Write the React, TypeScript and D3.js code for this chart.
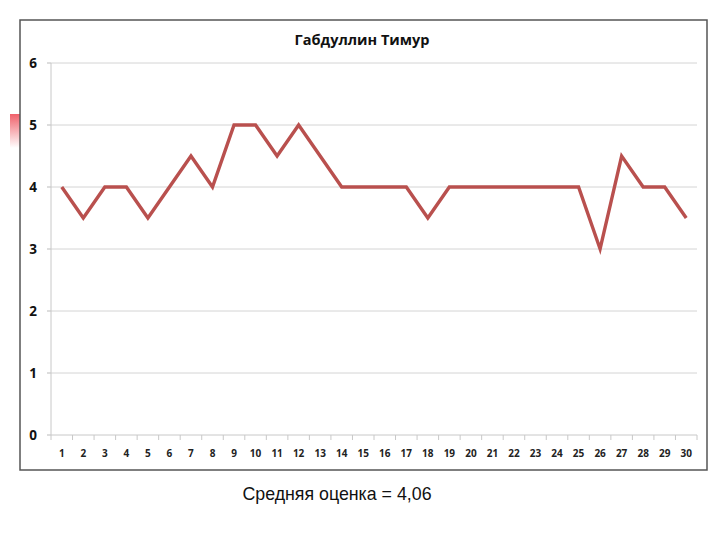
import React from 'react';
import * as d3 from 'd3';

const title = 'Габдуллин Тимур';
const lessons = d3.range(1, 31).map(String);
const grades = [4, 3.5, 4, 4, 3.5, 4, 4.5, 4, 5, 5, 4.5, 5, 4.5, 4, 4, 4, 4, 3.5, 4, 4, 4, 4, 4, 4, 4, 3, 4.5, 4, 4, 3.5];
const yTicks = [0, 1, 2, 3, 4, 5, 6];
const footer = 'Средняя оценка = 4,06';

const W = 720;
const H = 540;
const plot = { left: 51, right: 697, top: 63, bottom: 435 };
const font = '"Open Sans", "Noto Sans", sans-serif';

export default function App() {
  const x = d3.scaleBand<string>().domain(lessons).range([plot.left, plot.right]).padding(0);
  const y = d3.scaleLinear().domain([0, 6]).range([plot.bottom, plot.top]);

  const line = d3
    .line<number>()
    .x((_, i) => (x(lessons[i]) as number) + x.bandwidth() / 2)
    .y(d => y(d));

  const boundaries = lessons.map(l => x(l) as number).concat(plot.right);

  return (
    <svg width={W} height={H} style={{ position: 'absolute', left: 0, top: 0 }}>
      <defs>
        <linearGradient id="redfade" x1="0" y1="0" x2="0" y2="1">
          <stop offset="0%" stopColor="#ee4f5a" stopOpacity={0.9} />
          <stop offset="100%" stopColor="#ee4f5a" stopOpacity={0} />
        </linearGradient>
      </defs>
      <rect x={0} y={0} width={W} height={H} fill="#fff" />
      <rect x={10} y={114} width={10} height={34} fill="url(#redfade)" />
      <rect x={20} y={20} width={687} height={450} fill="#fff" stroke="#555" strokeWidth={1.5} />

      <text x={362} y={45} textAnchor="middle" fontFamily={font} fontWeight="bold" fontSize={14.5} fill="#111">
        {title}
      </text>

      {yTicks.map(t => (
        <g key={t}>
          {t > 0 && (
            <line x1={plot.left} x2={plot.right} y1={y(t)} y2={y(t)} stroke="#d4d4d4" strokeWidth={1} />
          )}
          <line x1={plot.left - 4} x2={plot.left} y1={y(t)} y2={y(t)} stroke="#bbb" />
          <text x={33} y={y(t)} dy="0.36em" textAnchor="middle" fontFamily={font} fontWeight="bold" fontSize={13.5} fill="#111">
            {t}
          </text>
        </g>
      ))}

      <line x1={plot.left} x2={plot.left} y1={plot.top} y2={plot.bottom} stroke="#c8c8c8" />
      <line x1={plot.left} x2={plot.right} y1={plot.bottom} y2={plot.bottom} stroke="#c8c8c8" />
      {boundaries.map((b, i) => (
        <line key={i} x1={b} x2={b} y1={plot.bottom} y2={plot.bottom + 5} stroke="#c8c8c8" />
      ))}
      {lessons.map(l => (
        <text
          key={l}
          x={(x(l) as number) + x.bandwidth() / 2}
          y={457}
          textAnchor="middle"
          fontFamily={font}
          fontWeight="bold"
          fontSize={10}
          fill="#222"
        >
          {l}
        </text>
      ))}

      <path d={line(grades) ?? ''} fill="none" stroke="#b9504e" strokeWidth={3.4} strokeLinejoin="miter" />

      <text x={337} y={500} textAnchor="middle" fontFamily='"Liberation Sans", Arial, sans-serif' fontSize={17.8} fill="#111">
        {footer}
      </text>
    </svg>
  );
}
